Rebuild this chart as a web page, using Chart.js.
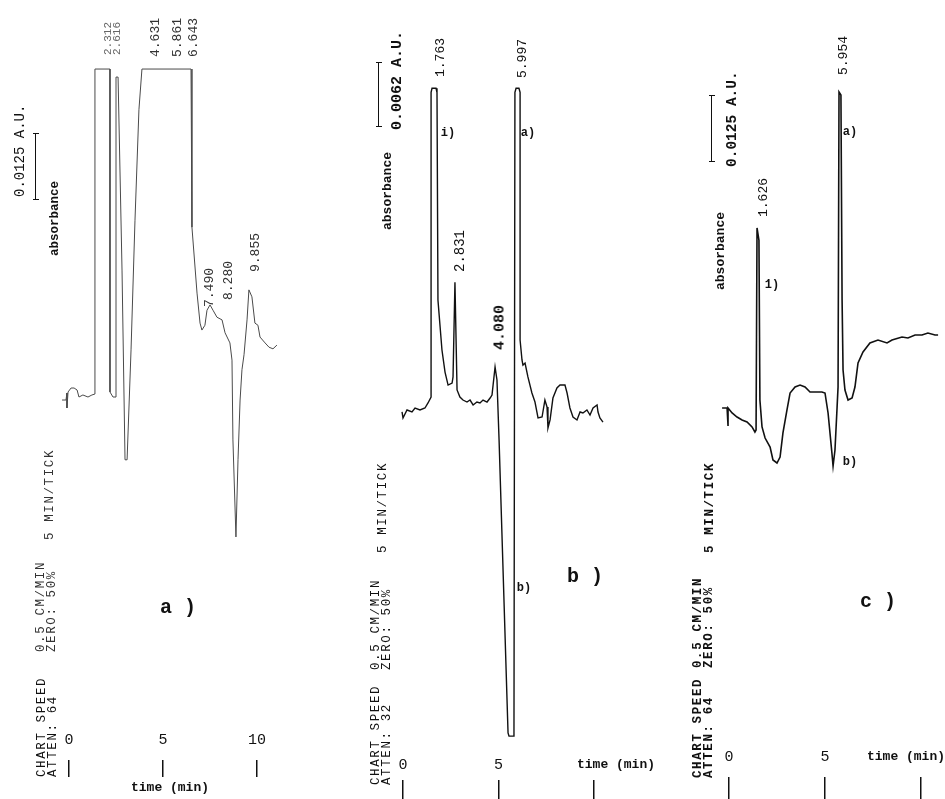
<!DOCTYPE html>
<html lang="en">
<head>
<meta charset="UTF-8">
<title>HPLC chromatograms a), b), c)</title>
<style>
    body {
        margin: 0;
        width: 945px;
        height: 799px;
        overflow: hidden;
        position: relative;
        background: #fff;
        font-family: "Liberation Mono", "DejaVu Sans Mono", monospace;
        color: #111;
    }
    canvas { position: absolute; top: 0; }
    .v {
        position: absolute;
        transform-origin: 0 0;
        transform: rotate(-90deg) translate(0, -50%);
        white-space: nowrap;
        line-height: 1;
    }
    .p { font-size: 12.5px; letter-spacing: 1.6px; }
    .h {
        position: absolute;
        transform: translate(-50%, -50%);
        white-space: nowrap;
        font-weight: bold;
        line-height: 1;
    }
    .bar { position: absolute; width: 0; border-left: 1.5px solid #111; }
    .bar::before, .bar::after {
        content: "";
        position: absolute;
        left: -3.5px;
        width: 6px;
        border-top: 1.5px solid #111;
    }
    .bar::before { top: 0; }
    .bar::after { bottom: 0; }
</style>
</head>
<body>
<canvas id="chartA" width="340" height="799" style="left:0px"></canvas>
<canvas id="chartB" width="295" height="799" style="left:360px"></canvas>
<canvas id="chartC" width="255" height="799" style="left:690px"></canvas>

<script src="https://cdn.jsdelivr.net/npm/chart.js"></script>
<script>
    // time in min, absorbance in mAU (relative to baseline)
    const aTime = [-0.37, -0.16, -0.11, -0.11, -0.05, 0.11, 0.27, 0.43, 0.53, 0.74,
        1.01, 1.22, 1.38, 1.38, 2.18, 2.18, 2.34, 2.50, 2.50, 2.61,
        2.82, 2.98, 3.09, 3.30, 3.51, 3.72, 3.88, 6.49, 6.54, 6.81,
        6.97, 7.07, 7.23, 7.34, 7.50, 7.66, 7.87, 8.14, 8.30, 8.56,
        8.67, 8.72, 8.88, 8.99, 9.10, 9.20, 9.31, 9.47, 9.57, 9.73,
        9.89, 10.05, 10.16, 10.43, 10.64, 10.85, 11.06];
    const aAbs = [-0.75, -0.75, 0.56, -2.24, 0.75, 1.49, 1.49, 1.12, -0.19, 0.19,
        -0.19, 0.19, 0.37, 61.0, 61.0, 0.75, -0.19, -0.19, 59.5, 59.5,
        23.5, -11.9, -11.9, 8.6, 32.8, 53.4, 61.0, 61.0, 31.5, 19.2,
        13.6, 12.3, 13.2, 16.0, 17.0, 16.0, 14.7, 14.2, 11.8, 9.9,
        6.7, -8.2, -26.3, -11.9, -0.75, 4.9, 7.7, 14.2, 19.8, 18.5,
        13.6, 13.2, 11.0, 9.9, 9.1, 8.8, 9.5];

    const bTime = [-0.05, 0.00, 0.21, 0.47, 0.63, 0.89, 1.15, 1.31, 1.47, 1.47,
        1.52, 1.73, 1.78, 1.83, 2.04, 2.20, 2.36, 2.57, 2.62, 2.72,
        2.83, 2.98, 3.14, 3.35, 3.51, 3.67, 3.87, 4.03, 4.19, 4.40,
        4.56, 4.66, 4.82, 4.92, 5.03, 5.50, 5.55, 5.76, 5.81, 5.86,
        5.92, 6.07, 6.13, 6.13, 6.23, 6.28, 6.39, 6.54, 6.75, 6.91,
        7.07, 7.28, 7.43, 7.54, 7.59, 7.70, 7.85, 8.06, 8.22, 8.48,
        8.59, 8.74, 8.90, 9.11, 9.27, 9.42, 9.63, 9.79, 9.95, 10.16,
        10.21, 10.31, 10.47];
    const bAbs = [-0.38, -0.95, -0.19, -0.38, 0, -0.19, 0, 0.48, 1.05, 30.1,
        30.5, 30.5, 30.1, 10.3, 5.53, 3.43, 2.19, 2.38, 2.96, 12.0,
        1.72, 1.05, 0.76, 0.57, 0.76, 0.29, 0.57, 0.48, 0.76, 0.57,
        0.95, 1.24, 3.91, 2.67, -3.05, -31.0, -31.3, -31.3, -31.0, 30.1,
        30.5, 30.5, 30.1, 6.49, 4.58, 4.10, 4.29, 2.96, 1.43, 0.57,
        -0.95, -0.86, 0.76, 0.10, -1.91, -1.14, 0.95, 1.91, 2.19, 2.19,
        1.43, 0, -0.86, -1.14, -0.38, -0.48, -0.19, -0.67, 0, 0.29,
        -0.38, -0.95, -1.34];

    const cTime = [-0.36, -0.10, -0.05, -0.05, 0.16, 0.42, 0.68, 0.94, 1.20, 1.35,
        1.41, 1.46, 1.56, 1.61, 1.72, 1.88, 2.14, 2.29, 2.50, 2.66,
        2.81, 3.02, 3.18, 3.44, 3.70, 3.96, 4.22, 4.48, 4.84, 5.00,
        5.16, 5.36, 5.42, 5.52, 5.63, 5.68, 5.73, 5.83, 5.89, 5.94,
        6.04, 6.20, 6.41, 6.56, 6.72, 6.98, 7.34, 7.76, 8.23, 8.49,
        9.01, 9.32, 9.69, 10.05, 10.36, 10.73, 10.89];
    const cAbs = [0, 0, -3.36, 0, -0.93, -1.68, -2.24, -2.61, -3.54, -4.48,
        -4.10, 33.6, 31.3, 1.49, -3.54, -5.60, -7.28, -9.70, -10.26, -9.14,
        -4.66, -0.37, 2.80, 3.92, 4.29, 3.92, 2.99, 2.99, 2.99, 2.80,
        -0.93, -8.40, -10.82, -7.84, 0.19, 3.92, 58.96, 58.4, 20.15, 7.09,
        3.36, 1.49, 1.87, 3.92, 8.40, 10.45, 12.13, 12.69, 12.13, 12.69,
        13.25, 13.06, 13.62, 13.62, 13.99, 13.62, 13.62];

    const aTicks = [0, 5, 10];
    const aTickLabels = ['0', '5', '10'];
    const bTicks = [0, 5, 10];
    const bTickLabels = ['0', '5', ''];
    const cTicks = [0, 5, 10];
    const cTickLabels = ['0', '5', ''];

    // two stacked bottom axes: labels first (nearest the plot), tick marks under them
    function makeChart(id, cfg) {
        const canvas = document.getElementById(id);
        const W = canvas.width, H = canvas.height;
        const chartBottom = H - cfg.labelHeight - cfg.markHeight;
        const xMin = (cfg.left - cfg.zeroX) / cfg.pxPerMin;
        const xMax = (cfg.left + W - cfg.zeroX) / cfg.pxPerMin;
        const setTicks = s => { s.ticks = cfg.ticks.map(v => ({ value: v })); };
        const title = {
            display: true, text: 'time (min)', align: cfg.titleAlign, color: '#111',
            font: { family: 'Liberation Mono', size: 13, weight: 'bold' },
            padding: { top: 0, bottom: cfg.titlePad }
        };
        const noTitle = { display: false };
        return new Chart(canvas, {
            type: 'line',
            data: {
                datasets: [{
                    data: cfg.time.map((t, i) => ({ x: t, y: cfg.abs[i] })),
                    xAxisID: 'x',
                    borderColor: cfg.color,
                    borderWidth: cfg.lineWidth,
                    pointRadius: 0,
                    tension: 0,
                    fill: false,
                    clip: false
                }]
            },
            options: {
                responsive: false,
                animation: false,
                events: [],
                layout: { padding: 0 },
                plugins: { legend: { display: false }, tooltip: { enabled: false } },
                scales: {
                    x: {
                        type: 'linear', position: 'bottom', weight: 0,
                        min: xMin, max: xMax,
                        afterBuildTicks: setTicks,
                        afterFit: s => { s.height = cfg.labelHeight; s.paddingLeft = 0; s.paddingRight = 0; },
                        border: { display: false },
                        grid: { display: false },
                        ticks: {
                            autoSkip: false, maxRotation: 0, minRotation: 0,
                            padding: cfg.labelPad, color: '#111',
                            font: { family: 'Liberation Mono', size: 15 },
                            callback: (v, i) => cfg.tickLabels[i]
                        },
                        title: cfg.titleOnLabels ? title : noTitle
                    },
                    xMarks: {
                        type: 'linear', position: 'bottom', weight: 1,
                        min: xMin, max: xMax,
                        afterBuildTicks: setTicks,
                        afterFit: s => { s.height = cfg.markHeight; s.paddingLeft = 0; s.paddingRight = 0; },
                        border: { display: false },
                        grid: { drawOnChartArea: false, drawTicks: true, tickLength: cfg.tickLength, color: '#111', lineWidth: 1.5 },
                        ticks: { display: false },
                        title: cfg.titleOnLabels ? noTitle : title
                    },
                    y: {
                        display: false,
                        min: -(chartBottom - cfg.baseY) * cfg.mauPerPx,
                        max: cfg.baseY * cfg.mauPerPx
                    }
                }
            }
        });
    }

    makeChart('chartA', {
        time: aTime, abs: aAbs, ticks: aTicks, tickLabels: aTickLabels,
        left: 0, zeroX: 69, pxPerMin: 18.8, baseY: 396, mauPerPx: 12.5 / 67,
        labelHeight: 32, labelPad: -5, markHeight: 39, tickLength: 17,
        titleOnLabels: false, titleAlign: 'center', titlePad: 3,
        color: '#4a4a4a', lineWidth: 1
    });
    makeChart('chartB', {
        time: bTime, abs: bAbs, ticks: bTicks, tickLabels: bTickLabels,
        left: 360, zeroX: 403, pxPerMin: 19.1, baseY: 408, mauPerPx: 6.2 / 65,
        labelHeight: 30, labelPad: -2, markHeight: 19, tickLength: 19,
        titleOnLabels: true, titleAlign: 'end', titlePad: 7,
        color: '#111', lineWidth: 1.4
    });
    makeChart('chartC', {
        time: cTime, abs: cAbs, ticks: cTicks, tickLabels: cTickLabels,
        left: 690, zeroX: 729, pxPerMin: 19.2, baseY: 408, mauPerPx: 12.5 / 67,
        labelHeight: 32, labelPad: -5, markHeight: 22, tickLength: 22,
        titleOnLabels: true, titleAlign: 'end', titlePad: 12,
        color: '#111', lineWidth: 1.6
    });

    // annotations: rotated printer text, peak labels, scale bars
    function vText(text, x, yBottom, size, weight, color, cls) {
        const d = document.createElement('div');
        d.className = 'v' + (cls ? ' ' + cls : '');
        d.textContent = text;
        d.style.left = x + 'px';
        d.style.top = yBottom + 'px';
        if (size) d.style.fontSize = size + 'px';
        if (weight) d.style.fontWeight = weight;
        if (color) d.style.color = color;
        document.body.appendChild(d);
    }
    function printer(text, x, yBottom, weight, color) {
        vText(text, x, yBottom, null, weight, color, 'p');
    }
    function hText(text, x, y, size) {
        const d = document.createElement('div');
        d.className = 'h';
        d.textContent = text;
        d.style.left = x + 'px';
        d.style.top = y + 'px';
        d.style.fontSize = size + 'px';
        document.body.appendChild(d);
    }
    function bar(x, y1, y2) {
        const d = document.createElement('div');
        d.className = 'bar';
        d.style.left = x + 'px';
        d.style.top = y1 + 'px';
        d.style.height = (y2 - y1) + 'px';
        document.body.appendChild(d);
    }

    // a)
    bar(35, 133, 200);
    vText('0.0125 A.U.', 20, 197, 14);
    vText('absorbance', 55, 256, 12.5, 'bold');
    vText('2.312', 108, 55, 11, null, '#666');
    vText('2.616', 117, 55, 11, null, '#666');
    vText('4.631', 155, 57, 13, null, '#333');
    vText('5.861', 177, 57, 13, null, '#333');
    vText('6.643', 193, 57, 13, null, '#333');
    vText('7.490', 209, 307, 13, null, '#333');
    vText('8.280', 228, 300, 13, null, '#333');
    vText('9.855', 255, 272, 13, null, '#333');
    printer('5 MIN/TICK', 50, 540, null, '#333');
    printer('0.5 CM/MIN', 41, 652, null, '#333');
    printer('ZERO: 50%', 52, 652, null, '#333');
    printer('CHART SPEED', 42, 777);
    printer('ATTEN: 64', 53, 777);
    hText('a )', 178, 608, 20);

    // b)
    bar(378, 62, 127);
    vText('0.0062 A.U.', 397, 130, 15, 'bold');
    vText('absorbance', 387, 230, 13, 'bold');
    vText('1.763', 440, 77, 13);
    vText('2.831', 460, 272, 14);
    vText('4.080', 500, 350, 15, 'bold');
    vText('5.997', 522, 78, 13);
    hText('i)', 448, 133, 12);
    hText('a)', 528, 133, 12);
    hText('b)', 524, 588, 12);
    printer('5 MIN/TICK', 383, 553);
    printer('0.5 CM/MIN', 376, 670);
    printer('ZERO: 50%', 387, 670);
    printer('CHART SPEED', 376, 785);
    printer('ATTEN: 32', 387, 785);
    hText('b )', 585, 577, 20);

    // c)
    bar(711, 95, 162);
    vText('0.0125 A.U.', 732, 167, 14.5, 'bold');
    vText('absorbance', 720, 290, 13, 'bold');
    vText('1.626', 763, 217, 13);
    vText('5.954', 843, 75, 13);
    hText('1)', 772, 285, 12);
    hText('a)', 850, 132, 12);
    hText('b)', 850, 462, 12);
    printer('5 MIN/TICK', 710, 553, 'bold');
    printer('0.5 CM/MIN', 698, 668, 'bold');
    printer('ZERO: 50%', 709, 668, 'bold');
    printer('CHART SPEED', 698, 778, 'bold');
    printer('ATTEN: 64', 709, 778, 'bold');
    hText('c )', 878, 602, 20);
</script>
</body>
</html>
